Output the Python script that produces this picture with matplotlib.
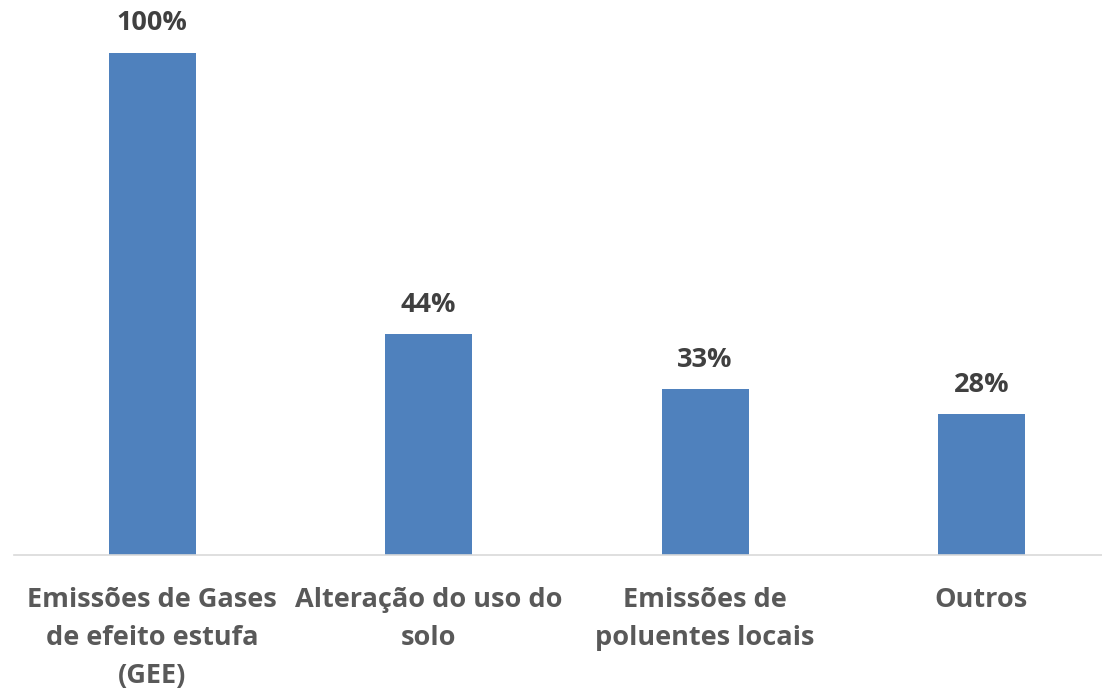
import matplotlib
matplotlib.use("Agg")
import matplotlib.pyplot as plt
import numpy as np

# === Data ===
CATEGORIES = [
    "Emissões de Gases\nde efeito estufa\n(GEE)",
    "Alteração do uso do\nsolo",
    "Emissões de\npoluentes locais",
    "Outros",
]
VALUES = [100, 44, 33, 28]

BAR_COLOR = "#4F81BD"
LABEL_COLOR = "#404040"
TICK_COLOR = "#595959"

plt.rcParams["font.family"] = ["Open Sans", "DejaVu Sans"]

fig = plt.figure(figsize=(11.02, 6.91), dpi=100)
ax = fig.add_axes([14 / 1102, 1 - 555 / 691, 1 - 14 / 1102, 502 / 691])

x = np.arange(len(CATEGORIES))
ax.bar(x, VALUES, width=0.315, color=BAR_COLOR, zorder=2)

for xi, v in zip(x, VALUES):
    ax.text(xi, v + 3.3, f"{v}%", ha="center", va="bottom",
            fontsize=19.5, fontweight="bold", color=LABEL_COLOR)

ax.set_xlim(-0.5, 3.436)
ax.set_ylim(0, 100)
ax.set_xticks(x)
ax.set_xticklabels(CATEGORIES, fontsize=19.5, fontweight="bold",
                   color=TICK_COLOR, linespacing=1.6)
ax.tick_params(axis="x", length=0, pad=23)
ax.set_yticks([])

for side in ["top", "right", "left"]:
    ax.spines[side].set_visible(False)
ax.spines["bottom"].set_color("#D9D9D9")
ax.spines["bottom"].set_linewidth(1.2)

fig.savefig("out.png", dpi=100)
